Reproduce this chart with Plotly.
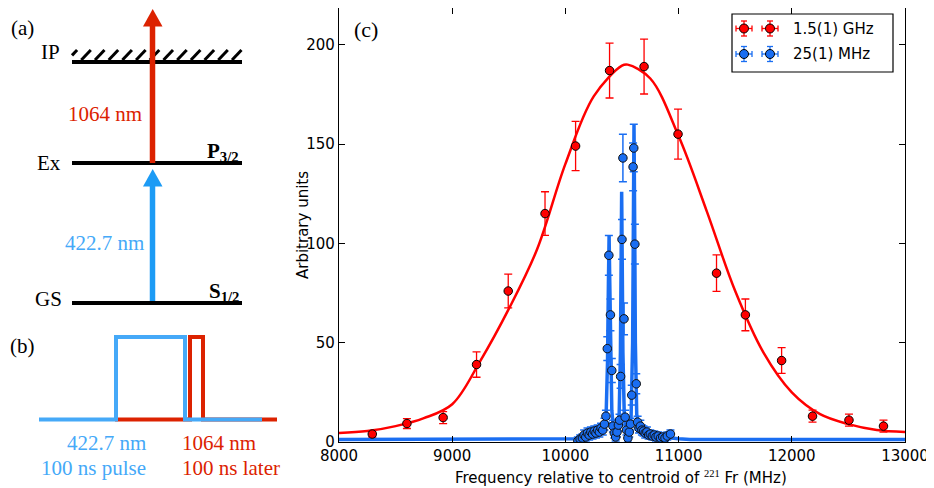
import plotly.graph_objects as go

W, H = 934, 488
OFF = 8  # the page body margin shifts the figure by this many pixels

# (c) broad scan, 1.5(1) GHz
red_x = [8294, 8600, 8920, 9215, 9495, 9820, 10090, 10390, 10695, 10995, 11335, 11590, 11910, 12183, 12505, 12810]
red_y = [4, 9.3, 12.3, 39, 76, 115, 149, 187, 189, 155, 85, 64, 41, 13, 11, 8]
red_err = [1.5, 2.5, 3, 6.4, 8.5, 11, 12.4, 13.8, 13.8, 12.6, 9.2, 8, 6.5, 3, 3, 3]
red_fit_x = [8000, 8250, 8500, 8750, 9000, 9250, 9500, 9750, 10000, 10250, 10500, 10550,
             10750, 11000, 11250, 11500, 11750, 12000, 12250, 12500, 12750, 13000]
red_fit_y = [4.5, 5.5, 8, 12, 19, 41, 67, 97, 140, 174, 189.5, 190,
             183, 154, 116, 76, 45, 25, 14, 9, 6, 5]

# (c) narrow scan, 25(1) MHz
blue_x = [10110, 10130, 10150, 10165, 10180, 10195, 10210, 10225, 10240, 10255, 10270, 10285,
          10300, 10315, 10330, 10345, 10358, 10370, 10384, 10398, 10410, 10420, 10432, 10444,
          10456, 10468, 10478, 10488, 10500, 10508, 10518, 10528, 10540, 10552, 10564, 10575,
          10586, 10598, 10604, 10614, 10626, 10638, 10650, 10662, 10676, 10690, 10705, 10720,
          10735, 10750, 10768, 10785, 10800, 10820, 10840, 10860, 10880, 10900, 10928]
blue_y = [0.5, 1.5, 2, 3.5, 2.5, 4.5, 3.5, 5, 4, 5.5, 4.5, 6,
          5, 7, 6, 9, 13, 47, 94, 64, 36, 8, 4.5, 2.5,
          5, 8.5, 11, 33, 102, 143, 62, 12.5, 6, 2, 5, 9,
          23.6, 138.5, 148, 99.6, 29.3, 10, 7, 8, 6, 5.5, 4.5, 5,
          3.5, 4, 3, 3.5, 2.5, 3, 2, 2.5, 2, 3, 4]
blue_err = [2, 2, 2, 2.5, 2, 2.5, 2.5, 2.5, 2.5, 2.5, 2.5, 2.5,
            2.5, 2.5, 2.5, 3, 3, 6, 10, 8, 6, 3, 2.5, 2,
            2.5, 3, 3, 6, 10, 12, 8, 3.5, 2.5, 2, 2.5, 3,
            5, 12, 12, 10, 5, 3, 2.5, 3, 2.5, 2.5, 2.5, 2.5,
            2, 2, 2, 2, 2, 2, 2, 2, 2, 2, 2]
blue_fit_x = [8000, 10050, 10100, 10150, 10200, 10250, 10300, 10340, 10360, 10372, 10380, 10386,
              10392, 10400, 10410, 10425, 10440, 10460, 10475, 10486, 10492, 10497, 10502, 10508,
              10520, 10540, 10560, 10580, 10594, 10600, 10606, 10612, 10618, 10630, 10650, 10700,
              10750, 10800, 10900, 11000, 11100, 13000]
blue_fit_y = [1.3, 1.3, 1.6, 2.2, 3, 4, 5.5, 8, 14, 40, 80, 104,
              80, 40, 16, 6, 4, 7, 14, 45, 90, 126, 90, 45,
              14, 6, 6, 12, 50, 110, 160, 110, 50, 14, 7, 5,
              3.5, 2.8, 2, 1.6, 1.3, 1.3]

x_ticks = [8000, 9000, 10000, 11000, 12000, 13000]
y_ticks = [0, 50, 100, 150, 200]
legend_labels = ["1.5(1) GHz", "25(1) MHz"]

RED = "#ff0000"
BLUE = "#1a6ef2"
ARROW_RED = "#dc2200"
ARROW_BLUE = "#1c9bf5"
LIGHT_BLUE = "#45a9f8"
SERIF = "Liberation Serif"
SANS = "DejaVu Sans"


def px(x):
    return (x - OFF) / W


def py(y):
    return 1 - (y - OFF) / H


shapes = []
annotations = []


def seg(x0, y0, x1, y1, color="black", width=4):
    shapes.append(dict(type="line", xref="paper", yref="paper",
                       x0=px(x0), y0=py(y0), x1=px(x1), y1=py(y1),
                       line=dict(color=color, width=width), layer="above"))


def poly(points, color, width=4, fill=None):
    d = "M " + " L ".join(f"{px(a)},{py(b)}" for a, b in points)
    if fill:
        d += " Z"
    shapes.append(dict(type="path", xref="paper", yref="paper", path=d,
                       line=dict(color=color, width=width if not fill else 0),
                       fillcolor=fill if fill else "rgba(0,0,0,0)", layer="above"))


def text(x, y, s, color="black", size=21, family=SERIF, xanchor="center"):
    annotations.append(dict(x=px(x), y=py(y), xref="paper", yref="paper", text=s,
                            showarrow=False, xanchor=xanchor, yanchor="middle",
                            font=dict(family=family, size=size, color=color)))


# ---- (a) level scheme ----
text(22, 28, "(a)")
for yl in (62, 163, 303):
    seg(72, yl, 242, yl)
bx = 232
while bx > 62:
    x0, y0 = bx, 60
    if x0 < 72:
        y0 = 60 - (72 - x0) * 1.05
        x0 = 72
    seg(x0, y0, bx + 9.5, 50, width=3)
    bx -= 13.7
text(62, 52, "IP", xanchor="right")
text(63, 163, "Ex", xanchor="right")
text(64, 299, "GS", xanchor="right")
text(241, 152, "<b>P<sub>3/2</sub></b>", xanchor="right")
text(241, 292, "<b>S<sub>1/2</sub></b>", xanchor="right")
seg(152.5, 163, 152.5, 26, color=ARROW_RED, width=5.5)
poly([(143, 26.5), (162.5, 26.5), (152.7, 9)], ARROW_RED, fill=ARROW_RED)
seg(152.5, 301, 152.5, 186, color=ARROW_BLUE, width=5.5)
poly([(143, 186.5), (162.5, 186.5), (152.7, 169)], ARROW_BLUE, fill=ARROW_BLUE)
text(105, 114, "1064 nm", color=ARROW_RED)
text(104, 243, "422.7 nm", color=LIGHT_BLUE)

# ---- (b) timing ----
text(22, 346, "(b)")
poly([(115, 419.5), (190, 419.5), (190, 337), (203, 337), (203, 419.5), (277, 419.5)], ARROW_RED)
poly([(39, 419.5), (116, 419.5), (116, 337), (185, 337), (185, 419.5), (262, 419.5)], LIGHT_BLUE)
text(148, 443, "422.7 nm", color=LIGHT_BLUE, xanchor="right")
text(148, 468, "100 ns pulse", color=LIGHT_BLUE, xanchor="right")
text(180, 443, "1064 nm", color=ARROW_RED, xanchor="left")
text(180, 468, "100 ns later", color=ARROW_RED, xanchor="left")

# ---- (c) labels ----
text(366, 29, "(c)", size=22)
text(621, 477, "Frequency relative to centroid of <sup><span style='font-family:Liberation Serif'>221</span></sup> Fr (MHz)",
     size=15, family=SANS)
annotations.append(dict(x=px(292), y=py(225), xref="paper", yref="paper", text="Arbitrary units",
                        showarrow=False, textangle=-90, font=dict(family=SANS, size=15, color="black")))

# ---- (c) legend ----
shapes.append(dict(type="rect", xref="paper", yref="paper", x0=px(732), y0=py(14), x1=px(893), y1=py(72),
                   line=dict(color="black", width=1.2), fillcolor="white", layer="above"))
for (cy, col, lab) in ((28.5, RED, legend_labels[0]), (54, BLUE, legend_labels[1])):
    for cx in (744, 770):
        seg(cx - 8, cy, cx + 8, cy, color=col, width=1.3)
        seg(cx, cy - 7.5, cx, cy + 7.5, color=col, width=1.3)
        for s in (-1, 1):
            seg(cx + 8 * s, cy - 3, cx + 8 * s, cy + 3, color=col, width=1.3)
            seg(cx - 3, cy + 7.5 * s, cx + 3, cy + 7.5 * s, color=col, width=1.3)
        shapes.append(dict(type="circle", xref="paper", yref="paper",
                           x0=px(cx - 4.5), x1=px(cx + 4.5), y0=py(cy - 4.5), y1=py(cy + 4.5),
                           line=dict(color="black", width=1), fillcolor=col, layer="above"))
    text(791, cy, lab, size=15, family=SANS, xanchor="left")

fig = go.Figure()
fig.add_trace(go.Scatter(x=red_fit_x, y=red_fit_y, mode="lines", line=dict(color=RED, width=2.5, shape="spline"),
                         showlegend=False, hoverinfo="skip"))
fig.add_trace(go.Scatter(x=blue_fit_x, y=blue_fit_y, mode="lines", line=dict(color=BLUE, width=3.5),
                         showlegend=False, hoverinfo="skip"))
fig.add_trace(go.Scatter(x=red_x, y=red_y, mode="markers", name=legend_labels[0],
                         marker=dict(color=RED, size=8.5, line=dict(color="black", width=1)),
                         error_y=dict(type="data", array=red_err, color=RED, thickness=1.3, width=4),
                         showlegend=False))
fig.add_trace(go.Scatter(x=blue_x, y=blue_y, mode="markers", name=legend_labels[1],
                         marker=dict(color=BLUE, size=8.5, line=dict(color="#111", width=1)),
                         error_y=dict(type="data", array=blue_err, color=BLUE, thickness=1.5, width=4),
                         showlegend=False))

axis_common = dict(showline=True, linecolor="black", linewidth=1.3, mirror="ticks", ticks="inside",
                   ticklen=6, tickcolor="black", showgrid=False, zeroline=False, automargin=False,
                   tickfont=dict(family=SANS, size=15, color="black"))
# frame top cannot go above the page offset, so the y range is cut to keep the 1.986 px/unit scale
fig.update_layout(
    width=W, height=H,
    margin=dict(l=0, r=0, t=0, b=0, pad=0, autoexpand=False),
    paper_bgcolor="white", plot_bgcolor="white",
    xaxis=dict(domain=[px(339), px(905)], range=[8000, 13000], tickvals=x_ticks,
               ticktext=[str(v) for v in x_ticks], **axis_common),
    yaxis=dict(domain=[py(442), 1], range=[0, 218.5], tickvals=y_ticks,
               ticktext=[str(v) for v in y_ticks], **axis_common),
    shapes=shapes, annotations=annotations, showlegend=False,
)

fig.write_html("out.html")
